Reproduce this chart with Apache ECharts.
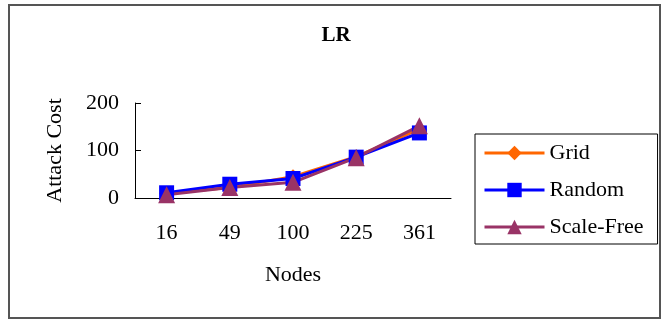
<!DOCTYPE html>
<html>
<head>
<meta charset="utf-8">
<script src="https://cdn.jsdelivr.net/npm/echarts@6/dist/echarts.min.js"></script>
<style>
  body { margin: 0; background: #fff; }
  #plot { width: 672px; height: 325px; }
</style>
</head>
<body>
<div id="plot"></div>
<script>
var nodes = ['16', '49', '100', '225', '361'];
var grid = [10, 22, 45, 87, 145];
var random = [11, 29, 41, 86, 137];
var scaleFree = [7, 22, 33, 85, 152];

var serif = '"Liberation Serif", "Times New Roman", serif';

var myChart = echarts.init(document.getElementById('plot'));
option = {
    backgroundColor: '#fff',
    animation: false,
    textStyle: { fontFamily: serif },
    title: {
        text: 'LR',
        left: 'center',
        top: 20,
        textStyle: { fontFamily: serif, fontSize: 21, fontWeight: 'bold', color: '#000' }
    },
    graphic: [{
        type: 'rect',
        shape: { x: 9, y: 5, width: 651, height: 313 },
        style: { fill: 'none', stroke: '#555', lineWidth: 2 }
    }],
    legend: {
        orient: 'vertical',
        left: 475,
        top: 134,
        padding: [8, 14, 6, 8],
        itemGap: 15,
        itemWidth: 60,
        itemHeight: 18,
        borderColor: '#000',
        borderWidth: 1,
        lineStyle: { width: 3 },
        textStyle: { fontFamily: serif, fontSize: 22, color: '#000' },
        data: ['Grid', 'Random', 'Scale-Free']
    },
    grid: { left: 135, right: 221, top: 103, bottom: 127 },
    xAxis: {
        type: 'category',
        data: nodes,
        name: 'Nodes',
        nameLocation: 'middle',
        nameGap: 66,
        nameTextStyle: { fontFamily: serif, fontSize: 22, color: '#000' },
        axisLine: { lineStyle: { color: '#000', width: 1 } },
        axisTick: { inside: true, length: 5, lineStyle: { color: '#000' } },
        axisLabel: { fontFamily: serif, fontSize: 22, color: '#000', margin: 24 }
    },
    yAxis: {
        type: 'value',
        min: 0,
        max: 200,
        interval: 100,
        name: 'Attack Cost',
        nameLocation: 'middle',
        nameGap: 69,
        nameTextStyle: { fontFamily: serif, fontSize: 22, color: '#000' },
        splitLine: { show: false },
        axisLine: { show: true, lineStyle: { color: '#000', width: 1 } },
        axisTick: { show: true, inside: true, length: 6, lineStyle: { color: '#000' } },
        axisLabel: { fontFamily: serif, fontSize: 22, color: '#000', margin: 16 }
    },
    series: [
        {
            name: 'Grid', type: 'line', data: grid,
            symbol: 'diamond', symbolSize: 15,
            itemStyle: { color: '#FF6600' },
            lineStyle: { color: '#FF6600', width: 3 }
        },
        {
            name: 'Random', type: 'line', data: random,
            symbol: 'rect', symbolSize: 15,
            itemStyle: { color: '#0000FF' },
            lineStyle: { color: '#0000FF', width: 3 }
        },
        {
            name: 'Scale-Free', type: 'line', data: scaleFree,
            symbol: 'triangle', symbolSize: 17,
            itemStyle: { color: '#993366' },
            lineStyle: { color: '#993366', width: 3 }
        }
    ]
};
option && myChart.setOption(option);
</script>
</body>
</html>
